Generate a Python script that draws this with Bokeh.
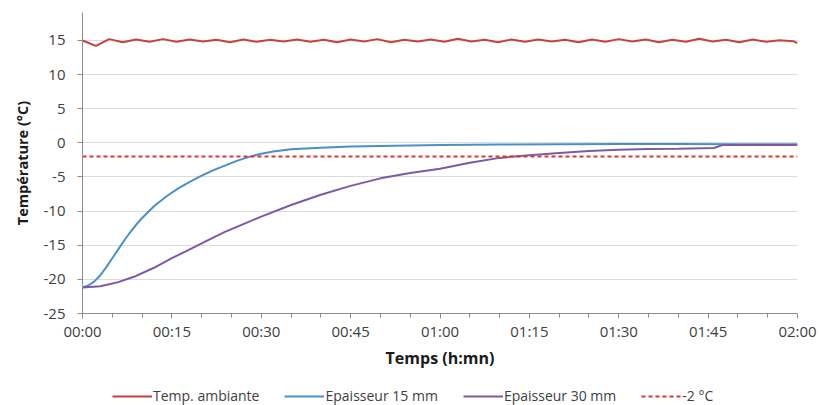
from bokeh.plotting import figure
from bokeh.models import Legend, LegendItem, FixedTicker, Range1d
from bokeh.layouts import column
from bokeh.embed import file_html
from bokeh.resources import INLINE

# ---- data (time in minutes, temperature in °C) ----
x_tick_values = [0, 15, 30, 45, 60, 75, 90, 105, 120]
x_tick_labels = ["00:00", "00:15", "00:30", "00:45", "01:00", "01:15", "01:30", "01:45", "02:00"]
x_minor_ticks = [5, 10, 20, 25, 35, 40, 50, 55, 65, 70, 80, 85, 95, 100, 110, 115]
y_tick_values = [-25, -20, -15, -10, -5, 0, 5, 10, 15]
y_tick_labels = ["-25", "-20", "-15", "-10", "-5", "0", "5", "10", "15"]

ambient_t = [0, 2.25, 4.5, 6.75, 9, 11.25, 13.5, 15.75, 18, 20.25, 22.5, 24.75, 27, 29.25,
             31.5, 33.75, 36, 38.25, 40.5, 42.75, 45, 47.25, 49.5, 51.75, 54, 56.25, 58.5,
             60.75, 63, 65.25, 67.5, 69.75, 72, 74.25, 76.5, 78.75, 81, 83.25, 85.5, 87.75,
             90, 92.25, 94.5, 96.75, 99, 101.25, 103.5, 105.75, 108, 110.25, 112.5, 114.75,
             117, 119.25, 120]
ambient_v = [15.0, 14.2, 15.2, 14.75, 15.15, 14.8, 15.2, 14.8, 15.15, 14.85, 15.1, 14.75, 15.15,
             14.8, 15.1, 14.85, 15.15, 14.8, 15.1, 14.75, 15.15, 14.85, 15.2, 14.75, 15.1,
             14.85, 15.15, 14.8, 15.25, 14.85, 15.1, 14.75, 15.15, 14.8, 15.15, 14.85, 15.1, 14.75,
             15.15, 14.8, 15.2, 14.85, 15.15, 14.75, 15.1, 14.8, 15.25, 14.85, 15.1, 14.75, 15.15,
             14.8, 15.05, 14.9, 14.6]

e15_t = [0, 1, 2, 3, 4, 5, 6, 7, 8, 9, 10, 12, 14, 16, 18, 20, 22, 24, 26, 28, 30, 32, 35,
         40, 45, 50, 60, 70, 80, 90, 100, 110, 120]
e15_v = [-21.2, -20.9, -20.3, -19.4, -18.2, -16.9, -15.6, -14.3, -13.1, -12.0, -11.0, -9.3,
         -7.9, -6.7, -5.7, -4.8, -4.0, -3.3, -2.6, -2.05, -1.6, -1.25, -0.95, -0.7, -0.55,
         -0.45, -0.3, -0.25, -0.2, -0.15, -0.15, -0.2, -0.2]

e30_t = [0, 3, 6, 9, 12, 15, 18, 21, 24, 27, 30, 35, 40, 45, 50, 55, 60, 65, 70, 75, 80,
         85, 90, 95, 100, 106, 107.5, 120]
e30_v = [-21.2, -21.0, -20.4, -19.5, -18.3, -16.9, -15.6, -14.3, -13.0, -11.9, -10.8, -9.1,
         -7.6, -6.3, -5.2, -4.4, -3.8, -2.9, -2.2, -1.8, -1.5, -1.2, -1.0, -0.9, -0.85,
         -0.75, -0.3, -0.3]

threshold_t = [0, 120]
threshold_v = [-2, -2]

FONT = "Open Sans"
C_AMB, C_15, C_30, C_THR = "#C9413B", "#4A90C8", "#7D5AA6", "#D93A2E"

p = figure(width=820, height=385, output_backend="svg", toolbar_location=None,
           x_range=Range1d(0, 120), y_range=Range1d(-25, 19.1),
           min_border_left=82, min_border_right=23, min_border_top=12, min_border_bottom=72)
p.outline_line_color = None
p.background_fill_color = "white"
p.border_fill_color = "white"

p.xgrid.grid_line_color = None
p.ygrid.grid_line_color = "#DCDCDC"
p.ygrid.ticker = FixedTicker(ticks=y_tick_values)

p.line(ambient_t, ambient_v, line_color=C_AMB, line_width=2)
p.line(e15_t, e15_v, line_color=C_15, line_width=2)
p.line(e30_t, e30_v, line_color=C_30, line_width=2)
p.line(threshold_t, threshold_v, line_color=C_THR, line_width=2, line_dash="4 3")

# axes
p.xaxis.ticker = FixedTicker(ticks=x_tick_values, minor_ticks=x_minor_ticks)
p.xaxis.major_label_overrides = {v: l for v, l in zip(x_tick_values, x_tick_labels)}
p.yaxis.ticker = FixedTicker(ticks=y_tick_values)
p.yaxis.major_label_overrides = {v: l for v, l in zip(y_tick_values, y_tick_labels)}

for ax in (p.xaxis[0], p.yaxis[0]):
    ax.axis_line_color = "#8C8C8C"
    ax.major_tick_line_color = "#8C8C8C"
    ax.minor_tick_line_color = "#8C8C8C"
    ax.major_tick_in = 0
    ax.major_tick_out = 5
    ax.major_label_text_font = FONT
    ax.major_label_text_font_size = "15px"
    ax.major_label_text_color = "#404040"
    ax.axis_label_text_font = FONT
    ax.axis_label_text_font_style = "bold"
    ax.axis_label_text_color = "#1A1A1A"

p.xaxis.axis_label_text_font_size = "16px"
p.yaxis.axis_label_text_font_size = "14.5px"
p.xaxis.minor_tick_in = 0
p.xaxis.minor_tick_out = 4
p.yaxis.minor_tick_line_color = None
p.xaxis.axis_label = "Temps (h:mn)"
p.yaxis.axis_label = "Température (°C)"
p.xaxis.major_label_standoff = 2
p.xaxis.axis_label_standoff = 3
p.yaxis.major_label_standoff = 12
p.yaxis.axis_label_standoff = 9

# ---- legend strip (same series, drawn outside its visible range) ----
lg = figure(width=820, height=20, output_backend="svg", toolbar_location=None,
            x_range=Range1d(1000, 1001), y_range=Range1d(1000, 1001),
            x_axis_location=None, y_axis_location=None,
            min_border_left=0, min_border_right=0, min_border_top=0, min_border_bottom=0)
lg.outline_line_color = None
lg.xgrid.grid_line_color = None
lg.ygrid.grid_line_color = None
l_amb = lg.line(ambient_t, ambient_v, line_color=C_AMB, line_width=2)
l15 = lg.line(e15_t, e15_v, line_color=C_15, line_width=2)
l30 = lg.line(e30_t, e30_v, line_color=C_30, line_width=2)
l_thr = lg.line(threshold_t, threshold_v, line_color=C_THR, line_width=2, line_dash="4 3")

legend = Legend(items=[
    LegendItem(label="Temp. ambiante", renderers=[l_amb]),
    LegendItem(label="Epaisseur 15 mm", renderers=[l15]),
    LegendItem(label="Epaisseur 30 mm", renderers=[l30]),
    LegendItem(label="-2 °C", renderers=[l_thr]),
], orientation="horizontal", location=(30, 0))
legend.label_text_font = FONT
legend.label_text_font_size = "14px"
legend.label_text_color = "#404040"
legend.glyph_width = 40
legend.glyph_height = 14
legend.label_standoff = 1
legend.spacing = 25
legend.padding = 1
legend.margin = 0
legend.border_line_color = None
legend.background_fill_alpha = 0
lg.add_layout(legend, "center")

layout = column(p, lg, spacing=0)
open("out.html", "w").write(file_html(layout, INLINE))
